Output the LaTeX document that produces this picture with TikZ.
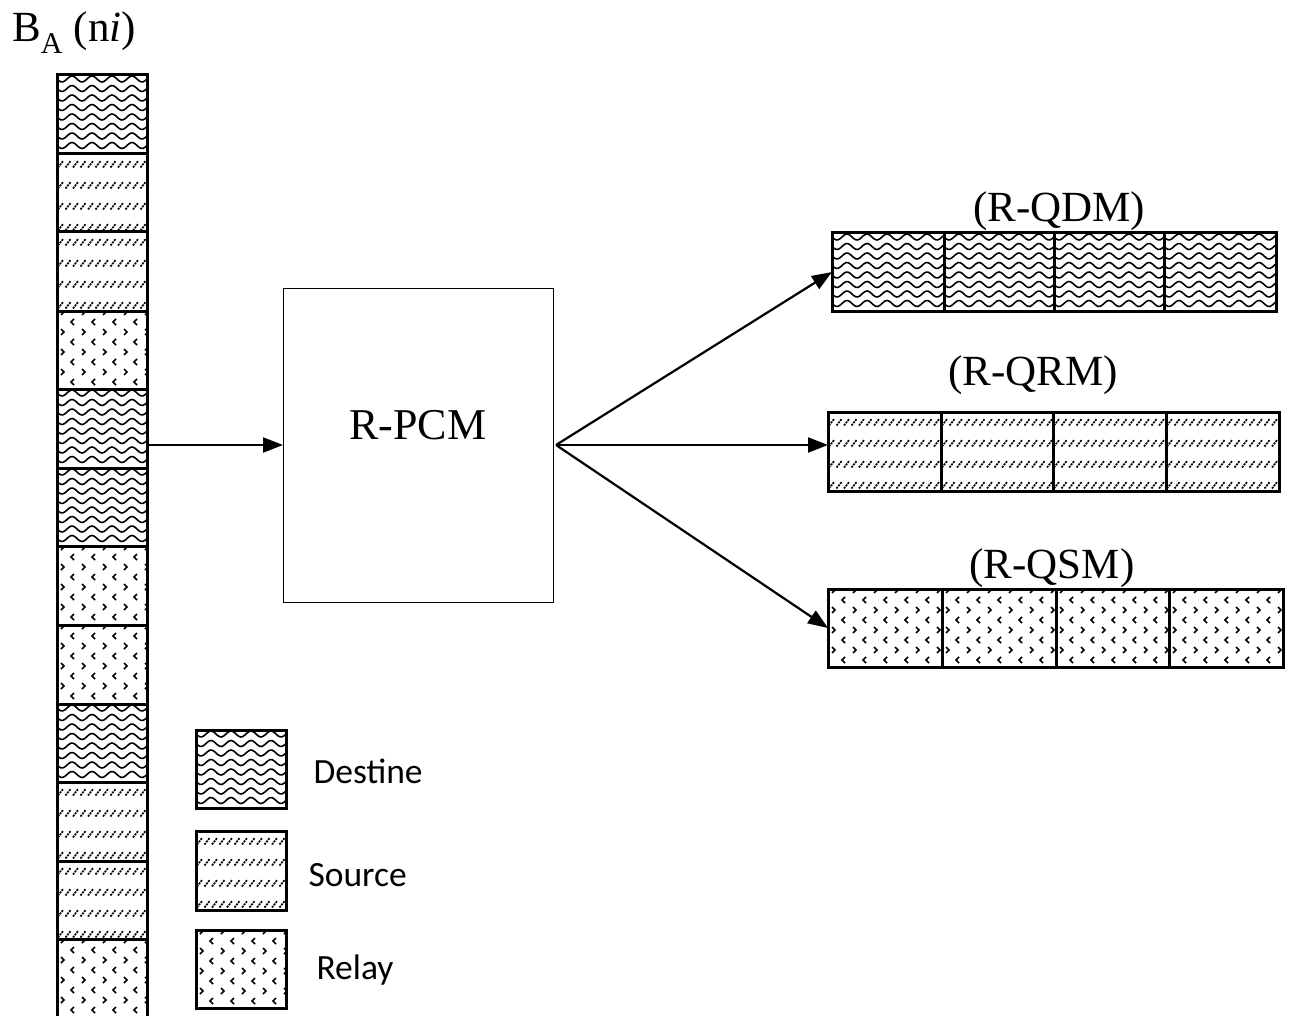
\documentclass[tikz,border=0pt]{standalone}
\usepackage{fontspec}
\setmainfont{Liberation Serif}
\newfontfamily\legfont{Carlito}
\usetikzlibrary{arrows.meta}

\tikzset{
  patline/.style={line width=1.7pt},
  frame/.style={draw, line width=3pt},
  conn/.style={line width=2.2pt, -{Triangle[length=20pt,width=15pt]}},
  serlabel/.style={font=\fontsize{43}{50}\selectfont, anchor=base},
  leglabel/.style={font=\legfont\fontsize{35.5}{40}\selectfont, anchor=base west},
  anchorbox/.style={inner sep=0pt, outer sep=0pt},
}

% wave pattern
\newcommand\wavefill[4]{%
  \begin{scope}
    \clip (#1,#2) rectangle (#3,#4);
    \pgfmathsetmacro\wya{#2+4}
    \pgfmathsetmacro\wyb{#2+13.5}
    \pgfmathsetmacro\wns{int((#3-#1)/2)+2}
    \foreach \yy in {\wya,\wyb,...,#4}{
      \draw[patline, line width=1.6pt] plot[domain=#1:#3,samples=\wns] (\x,{\yy+3*sin(18*(\x-#1))});
    }
  \end{scope}}
% source pattern
\newcommand\srcfill[4]{%
  \begin{scope}
    \clip (#1,#2) rectangle (#3,#4);
    \pgfmathsetmacro\sya{#2+10}
    \pgfmathsetmacro\syb{#2+31}
    \pgfmathsetmacro\sxa{#1+1}
    \pgfmathsetmacro\sxb{#1+8.5}
    \foreach \yy in {\sya,\syb,...,#4}{
      \foreach \xx in {\sxa,\sxb,...,#3}{
        \draw[patline, dash pattern=on 2pt off 1pt] (\xx,\yy+3.5) -- ++(5.5,-7);
      }}
  \end{scope}}
% relay pattern
\newcommand\relfill[4]{%
  \begin{scope}
    \clip (#1,#2) rectangle (#3,#4);
    \pgfmathsetmacro\rn{int((#4-#2)/10)}
    \pgfmathsetmacro\lxa{#1+14}
    \pgfmathsetmacro\lxb{#1+35}
    \pgfmathsetmacro\gxa{#1+4}
    \pgfmathsetmacro\gxb{#1+25}
    \foreach \r in {0,...,\rn}{
      \pgfmathsetmacro\ry{#2+1+10*\r}
      \ifodd\r
        \foreach \xx in {\lxa,\lxb,...,#3}{
          \draw[patline] (\xx+3,\ry-3) -- (\xx,\ry) -- (\xx+3,\ry+3);}
      \else
        \foreach \xx in {\gxa,\gxb,...,#3}{
          \draw[patline] (\xx,\ry-3) -- (\xx+3,\ry) -- (\xx,\ry+3);}
      \fi
    }
  \end{scope}}
\newcommand\pcell[5]{%
  \csname #1fill\endcsname{#2}{#3}{#4}{#5}%
  \draw[frame] (#2,#3) rectangle (#4,#5);}

\begin{document}
\begin{tikzpicture}[x=1pt,y=-1pt]
\useasboundingbox (0,0) rectangle (1290,1016);

% title
\node[anchor=base west, inner sep=0pt, font=\fontsize{43}{50}\selectfont] (title) at (12,42) {B\textsubscript{A} (n\textit{i})};

% left column
\foreach \t/\ya/\yb in {wave/75/154, src/154/232, src/232/311, rel/311/389,
  wave/389/468, wave/468/546, rel/546/625, rel/625/704, wave/704/782,
  src/782/861, src/861/939, rel/939/1030}{
  \pcell{\t}{57}{\ya}{147}{\yb}
}
\node[anchorbox, minimum width=90pt, minimum height=955pt] (col) at (102,552.5) {};

% R-PCM box
\node[draw, line width=0.9pt, minimum width=270pt, minimum height=314pt, anchorbox] (pcm) at (418,445) {};
\node[serlabel, font=\fontsize{44}{50}\selectfont] (pcmlabel) at (418,439) {R-PCM};

% right arrays
\foreach \a/\b in {832/944, 944/1054, 1054/1164, 1164/1276}{\pcell{wave}{\a}{233}{\b}{311}}
\node[anchorbox, minimum width=444pt, minimum height=78pt] (qdm) at (1054,272) {};
\node[serlabel] (qdmlabel) at (1059,222) {(R-QDM)};

\foreach \a/\b in {828/941, 941/1053, 1053/1166, 1166/1279}{\pcell{src}{\a}{412}{\b}{491}}
\node[anchorbox, minimum width=451pt, minimum height=79pt] (qrm) at (1053.5,451.5) {};
\node[serlabel] (qrmlabel) at (1033,385) {(R-QRM)};

\foreach \a/\b in {828/942, 942/1056, 1056/1169, 1169/1283}{\pcell{rel}{\a}{589}{\b}{667}}
\node[anchorbox, minimum width=455pt, minimum height=78pt] (qsm) at (1055.5,628) {};
\node[serlabel] (qsmlabel) at (1052,578) {(R-QSM)};

% connectors
\draw[conn] (pcm.west -| col.east) -- (pcm.west);
\draw[conn] ([xshift=3pt]pcm.east) -- (qdm.west);
\draw[conn] ([xshift=3pt]pcm.east) -- (qrm.west |- pcm.east);
\draw[conn] ([xshift=3pt]pcm.east) -- (qsm.west);

% legend
\pcell{wave}{196}{730}{286}{808}
\node[anchorbox, minimum width=90pt, minimum height=78pt] (legd) at (241,769) {};
\node[leglabel] (legdt) at (310,783) {Destine};
\pcell{src}{196}{831}{286}{910}
\node[anchorbox, minimum width=90pt, minimum height=79pt] (legs) at (241,870.5) {};
\node[leglabel] (legst) at (305,886) {Source};
\pcell{rel}{196}{930}{286}{1008}
\node[anchorbox, minimum width=90pt, minimum height=78pt] (legr) at (241,969) {};
\node[leglabel] (legrt) at (313,979) {Relay};
\end{tikzpicture}
\end{document}
